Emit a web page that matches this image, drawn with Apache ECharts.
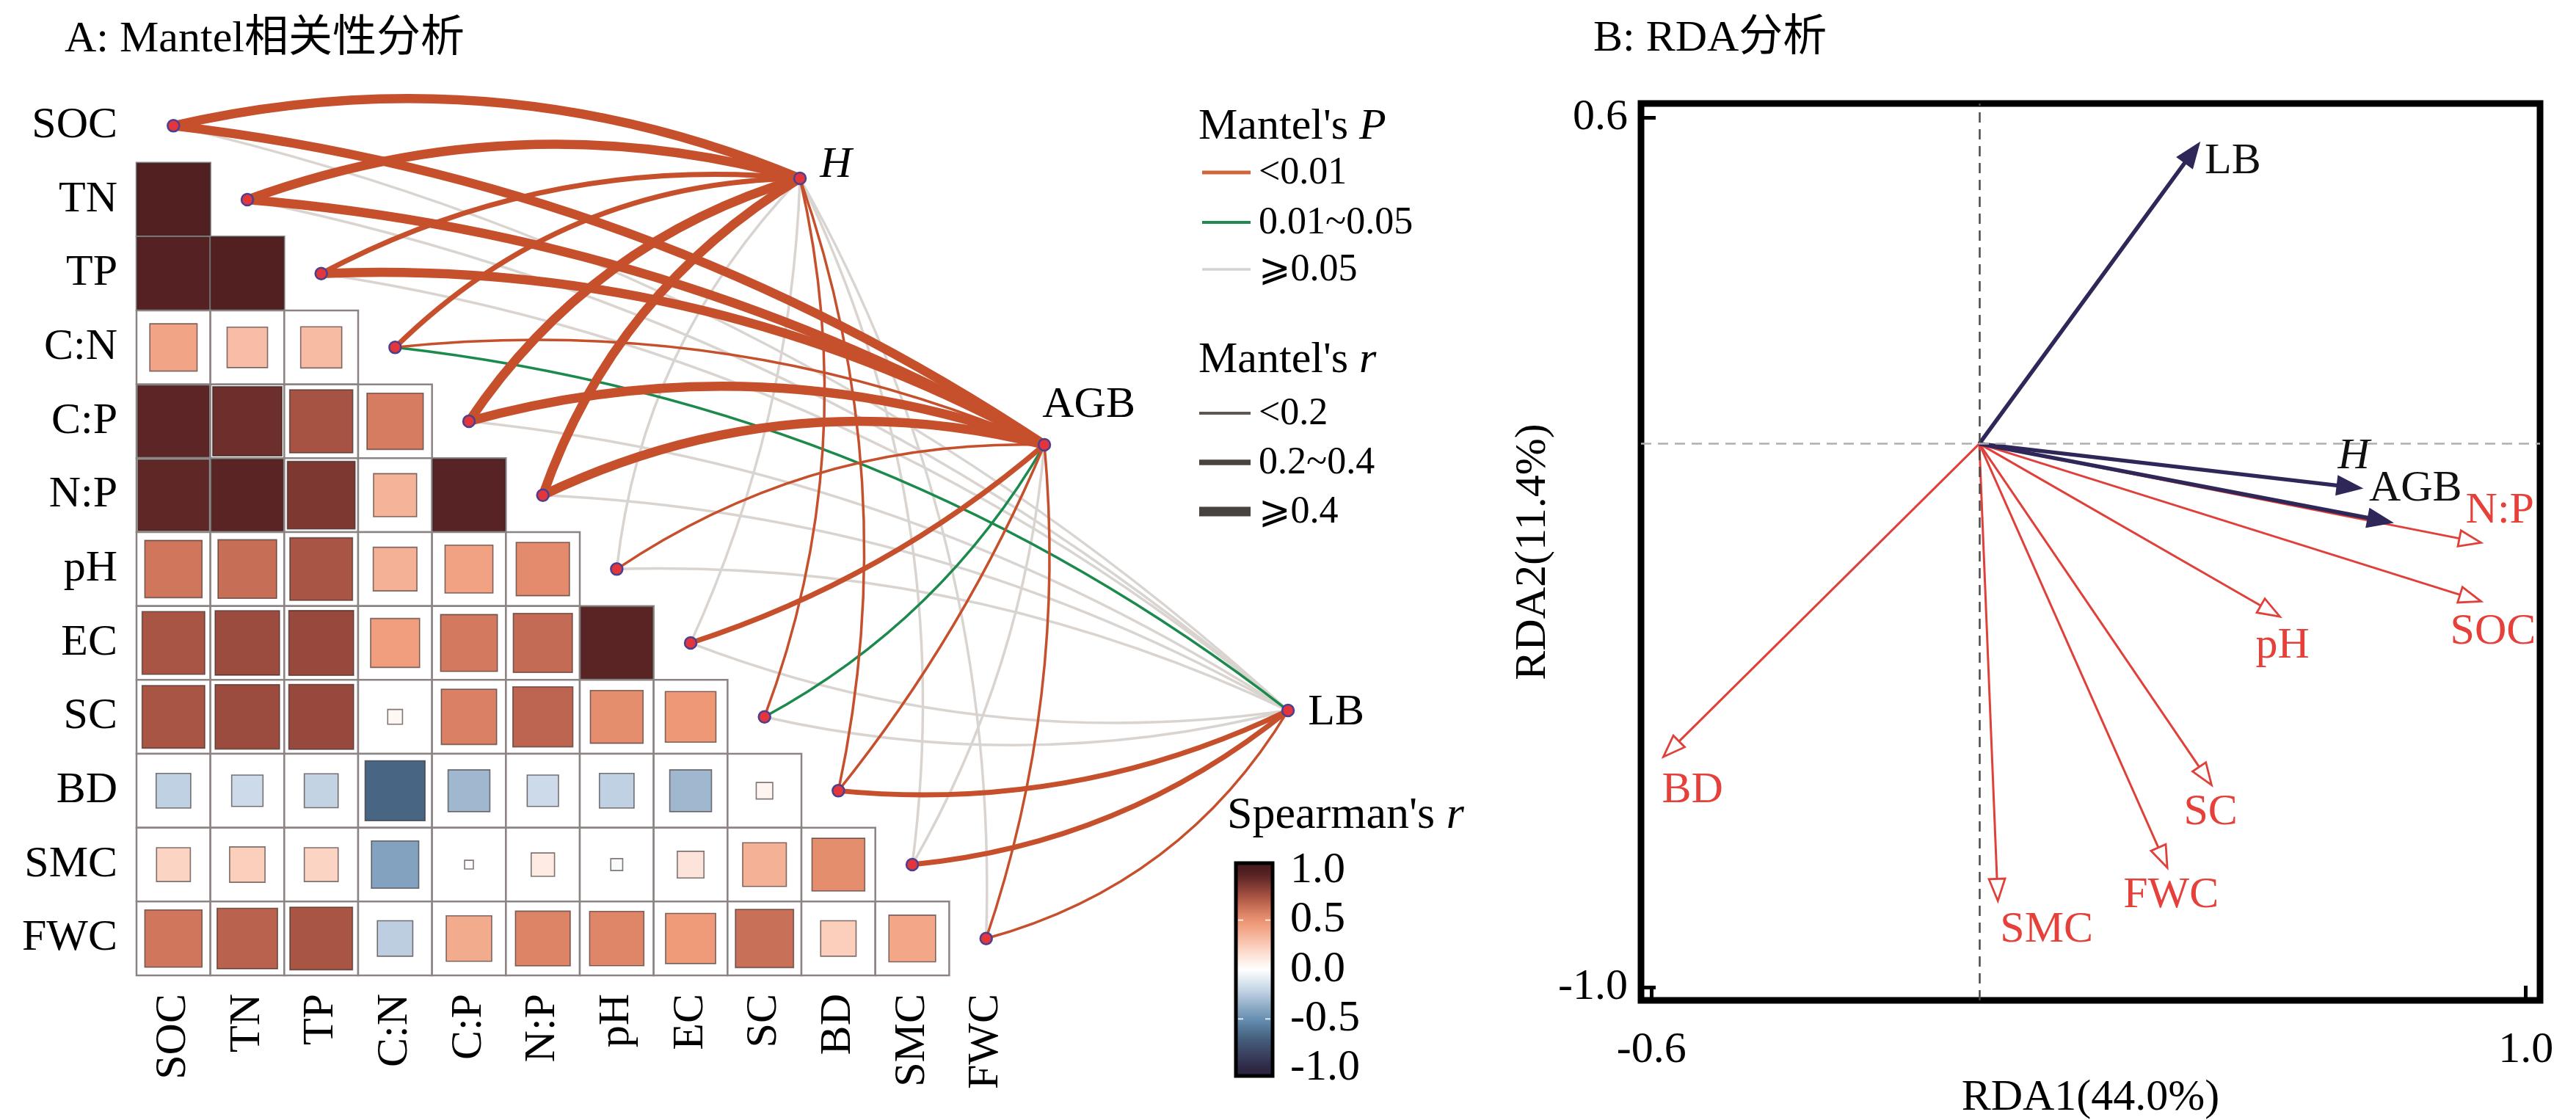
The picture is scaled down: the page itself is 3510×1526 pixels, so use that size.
<!DOCTYPE html>
<html>
<head>
<meta charset="utf-8">
<script src="https://cdn.jsdelivr.net/npm/echarts@6/dist/echarts.min.js"></script>
<style>html,body{margin:0;padding:0;background:#fff}#c{width:3510px;height:1526px}</style>
</head>
<body>
<div id="c"></div>
<script>
// ===================== DATA =====================
const variables = ['SOC','TN','TP','C:N','C:P','N:P','pH','EC','SC','BD','SMC','FWC'];

// Spearman's r, lower triangle (row i has values for columns 0..i-1)
const spearmanLower = [
  [],
  [0.97],
  [0.96, 0.97],
  [0.41, 0.30, 0.31],
  [0.93, 0.88, 0.73, 0.58],
  [0.92, 0.94, 0.84, 0.34, 0.95],
  [0.60, 0.63, 0.72, 0.35, 0.42, 0.52],
  [0.72, 0.76, 0.77, 0.44, 0.59, 0.64, 0.94],
  [0.72, 0.76, 0.77, 0.04, 0.56, 0.66, 0.51, 0.47],
  [-0.22, -0.18, -0.21, -0.66, -0.32, -0.18, -0.22, -0.32, 0.05],
  [0.21, 0.23, 0.21, -0.41, 0.014, 0.10, -0.026, 0.13, 0.35, 0.51],
  [0.60, 0.67, 0.72, -0.23, 0.38, 0.55, 0.54, 0.46, 0.62, 0.23, 0.40]
];

const mantelTargets = ['H', 'AGB', 'LB'];
// Mantel's P class per variable: 0 = <0.01, 1 = 0.01~0.05, 2 = >=0.05
const mantelP_H   = [0,0,0,0,0,0,2,2,0,0,2,2];
const mantelP_AGB = [0,0,0,0,0,0,0,0,1,0,2,0];
const mantelP_LB  = [2,2,2,1,2,2,2,2,2,0,0,0];
// Mantel's r class per variable: 0 = <0.2, 1 = 0.2~0.4, 2 = >=0.4
const mantelR_H   = [2,2,1,1,2,2,0,0,0,0,0,0];
const mantelR_AGB = [2,2,2,0,2,2,0,1,0,0,0,0];
const mantelR_LB  = [0,0,0,0,0,0,0,0,0,1,1,0];

const mantelPLabels = ['<0.01', '0.01~0.05', '\u2A7E0.05'];
const mantelRLabels = ['<0.2', '0.2~0.4', '\u2A7E0.4'];
const colorbarTicks = [-1.0, -0.5, 0.0, 0.5, 1.0];

// RDA biplot scores
const rdaRespNames = ['LB', 'H', 'AGB'];
const rdaRespX = [0.403, 0.700, 0.756];
const rdaRespY = [0.554, -0.082, -0.145];
const rdaEnvNames = ['N:P', 'SOC', 'pH', 'SC', 'FWC', 'SMC', 'BD'];
const rdaEnvX = [0.918, 0.918, 0.550, 0.425, 0.344, 0.034, -0.578];
const rdaEnvY = [-0.182, -0.290, -0.318, -0.628, -0.780, -0.841, -0.576];
const rdaXTicks = [-0.6, 1.0];
const rdaYTicks = [-1.0, 0.6];

// ===================== STYLE / LAYOUT =====================
const FONT = '"Liberation Serif","Times New Roman","DejaVu Serif","DejaVu Sans","Noto Sans CJK SC",serif';
const CELL = 100.67;
const A_LEFT = 186, A_TOP = 121;
const targetPos = { H: [8.98, 1.212], AGB: [12.288, 4.818], LB: [15.586, 8.414] };
const curveH   = [0.16,0.16,0.15,0.20,0.18,0.18,0.17,-0.10,-0.15,-0.14,-0.15,-0.14];
const curveAGB = [0.12,0.11,0.14,0.13,0.16,0.18,0.16,-0.10,-0.14,-0.07,-0.11,-0.106];
const curveLB  = [0.13,0.13,0.14,0.14,0.12,0.12,0.12,-0.13,-0.12,-0.14,-0.15,-0.20];
const pColors = ['#c64f2c', '#1c8a4c', '#d9d4d0'];
const pLegendColors = ['#d0663c', '#1f8a4f', '#d6d2cf'];
const rWidths = [3.5, 7, 12.5];
const rLegendWidths = [4, 7.5, 13];

const posStops = [[0,'#ffffff'],[0.2,'#fcd6c6'],[0.35,'#f5b196'],[0.47,'#ee9876'],[0.58,'#d67c61'],[0.7,'#b05a47'],[0.8,'#8e4238'],[0.9,'#652a29'],[1,'#4a1b1e']];
const negStops = [[0,'#ffffff'],[0.2,'#c6d6e6'],[0.35,'#95b0ca'],[0.5,'#658eb0'],[0.68,'#46607f'],[1,'#2c2441']];

function hex2rgb(h){return [parseInt(h.slice(1,3),16),parseInt(h.slice(3,5),16),parseInt(h.slice(5,7),16)];}
function corrColor(r){
  const stops = r >= 0 ? posStops : negStops;
  const a = Math.min(1, Math.abs(r));
  for (let i = 1; i < stops.length; i++) {
    if (a <= stops[i][0]) {
      const t = (a - stops[i-1][0]) / (stops[i][0] - stops[i-1][0]);
      const c0 = hex2rgb(stops[i-1][1]), c1 = hex2rgb(stops[i][1]);
      const c = c0.map((v,k) => Math.round(v + (c1[k]-v)*t));
      return 'rgb(' + c.join(',') + ')';
    }
  }
  return stops[stops.length-1][1];
}

// ===================== BUILD SERIES DATA =====================
const heatData = [];
spearmanLower.forEach((row, i) => row.forEach((r, j) => heatData.push([j, i, r])));

const pByTarget = { H: mantelP_H, AGB: mantelP_AGB, LB: mantelP_LB };
const rByTarget = { H: mantelR_H, AGB: mantelR_AGB, LB: mantelR_LB };
const curveByTarget = { H: curveH, AGB: curveAGB, LB: curveLB };
let links = [];
mantelTargets.forEach(t => {
  variables.forEach((v, i) => {
    const p = pByTarget[t][i], r = rByTarget[t][i];
    links.push({ p, r, item: {
      coords: [[i + 0.5, i + 0.5], targetPos[t]],
      lineStyle: { color: pColors[p], width: rWidths[r], curveness: curveByTarget[t][i], opacity: 1 }
    }});
  });
});
links.sort((a, b) => (b.p - a.p) || (a.r - b.r));
const linkData = links.map(l => l.item);

const envDots = variables.map((v, i) => [i + 0.5, i + 0.5]);
const targetLabelOffset = { H: [18, -18], AGB: [-12, -54], LB: [18, 3] };
const targetDots = mantelTargets.map(t => ({
  value: targetPos[t],
  label: { show: true, position: 'right', distance: 0, offset: targetLabelOffset[t],
           formatter: t, fontSize: 60, fontFamily: FONT, color: '#000',
           fontStyle: t === 'H' ? 'italic' : 'normal' }
}));

const CB_MIN = -1.077, CB_MAX = 1.077;

const rdaLabelOffset = {
  'LB': [7, 26, 'left'], 'H': [-11, -43, 'center'], 'AGB': [-32, -46, 'left'],
  'N:P': [-21, -43, 'left'], 'SOC': [-42, 42, 'left'], 'pH': [-33, 40, 'left'],
  'SC': [-38, 38, 'left'], 'FWC': [-60, 38, 'left'], 'SMC': [3, 40, 'left'], 'BD': [-2, 46, 'left']
};

function arrowRenderer(names, open, color, lw, headL, headW, labelColor) {
  return function (params, api) {
    const o = api.coord([0, 0]);
    const t = api.coord([api.value(0), api.value(1)]);
    const dx = t[0] - o[0], dy = t[1] - o[1], L = Math.hypot(dx, dy);
    const ux = dx / L, uy = dy / L;
    const b = [t[0] - ux * headL, t[1] - uy * headL];
    const p1 = [b[0] - uy * headW, b[1] + ux * headW];
    const p2 = [b[0] + uy * headW, b[1] - ux * headW];
    const name = names[params.dataIndex];
    const off = rdaLabelOffset[name];
    const lineEnd = open ? b : [b[0] + ux * 6, b[1] + uy * 6];
    return { type: 'group', children: [
      { type: 'line', shape: { x1: o[0], y1: o[1], x2: lineEnd[0], y2: lineEnd[1] },
        style: { stroke: color, lineWidth: lw } },
      { type: 'polygon', shape: { points: [t, p1, p2] },
        style: { fill: open ? '#ffffff' : color, stroke: color, lineWidth: open ? 2.8 : 1.5, lineJoin: 'miter' } },
      { type: 'text', x: t[0] + off[0], y: t[1] + off[1],
        style: { text: name, fill: labelColor, fontSize: 60, fontFamily: FONT,
                 fontStyle: name === 'H' ? 'italic' : 'normal', align: off[2], verticalAlign: 'middle' } }
    ]};
  };
}

// ===================== LEGEND GRAPHICS =====================
const gEls = [];
function txt(x, y, text, size, opts) {
  return Object.assign({ type: 'text', x, y, z: 50,
    style: Object.assign({ text, fontSize: size, fontFamily: FONT, fill: '#000', align: 'left', verticalAlign: 'middle' }, opts || {}) });
}
gEls.push(txt(88, 54, 'A: Mantel相关性分析', 60));
gEls.push(txt(2171, 53, 'B: RDA分析', 60));
gEls.push(txt(1633, 173, "Mantel's {i|P}", 60, { rich: { i: { fontStyle: 'italic', fontSize: 60, fontFamily: FONT } } }));
[235, 303, 367].forEach((y, k) => {
  gEls.push({ type: 'line', z: 50, shape: { x1: 1638, y1: y, x2: 1704, y2: y }, style: { stroke: pLegendColors[k], lineWidth: [5, 4, 3.5][k] } });
  gEls.push(txt(1715, y + 1, mantelPLabels[k], 52));
});
gEls.push(txt(1633, 491, "Mantel's {i|r}", 60, { rich: { i: { fontStyle: 'italic', fontSize: 60, fontFamily: FONT } } }));
[563, 630, 697].forEach((y, k) => {
  gEls.push({ type: 'line', z: 50, shape: { x1: 1634, y1: y, x2: 1704, y2: y }, style: { stroke: k === 0 ? '#5e5751' : '#48433f', lineWidth: rLegendWidths[k] } });
  gEls.push(txt(1715, y + 1, mantelRLabels[k], 52));
});
gEls.push(txt(1672, 1112, "Spearman's {i|r}", 62, { rich: { i: { fontStyle: 'italic', fontSize: 62, fontFamily: FONT } } }));

// ===================== OPTION =====================
const axisText = { fontSize: 60, fontFamily: FONT, color: '#000' };
const option = {
  animation: false,
  backgroundColor: '#ffffff',
  graphic: { elements: gEls },
  grid: [
    { left: A_LEFT, top: A_TOP, width: 12 * CELL, height: 12 * CELL, containLabel: false, outerBoundsMode: 'none' },
    { left: A_LEFT, top: A_TOP, width: 18 * CELL, height: 12 * CELL, containLabel: false, outerBoundsMode: 'none' },
    { left: 1684, top: 1176, width: 50, height: 290, containLabel: false, outerBoundsMode: 'none' },
    { left: 2236, top: 141, width: 1225, height: 1222, containLabel: false, outerBoundsMode: 'none',
      show: true, borderColor: '#000', borderWidth: 9, backgroundColor: 'transparent' }
  ],
  xAxis: [
    { type: 'category', gridIndex: 0, data: variables, position: 'bottom',
      axisLine: { show: false }, axisTick: { show: false }, splitLine: { show: false },
      axisLabel: Object.assign({ rotate: 90, margin: 25, interval: 0 }, axisText) },
    { type: 'value', gridIndex: 1, min: 0, max: 18, show: false },
    { type: 'value', gridIndex: 2, min: 0, max: 1, show: false },
    { type: 'value', gridIndex: 3, min: -0.619, max: 1.026, position: 'bottom',
      axisLine: { show: false, onZero: false }, splitLine: { show: false },
      axisTick: { show: true, inside: true, length: 20, customValues: rdaXTicks, lineStyle: { color: '#000', width: 5 } },
      axisLabel: Object.assign({ customValues: rdaXTicks, margin: 38, formatter: v => v.toFixed(1) }, axisText),
      name: 'RDA1(44.0%)', nameLocation: 'middle', nameGap: 92, nameTextStyle: axisText }
  ],
  yAxis: [
    { type: 'category', gridIndex: 0, data: variables, inverse: true,
      axisLine: { show: false }, axisTick: { show: false }, splitLine: { show: false },
      axisLabel: Object.assign({ margin: 26, interval: 0 }, axisText) },
    { type: 'value', gridIndex: 1, min: 0, max: 12, inverse: true, show: false },
    { type: 'value', gridIndex: 2, min: CB_MIN, max: CB_MAX, position: 'right',
      axisLine: { show: false, onZero: false }, axisTick: { show: false }, splitLine: { show: false },
      axisLabel: Object.assign({ customValues: colorbarTicks, margin: 24, formatter: v => v.toFixed(1) }, axisText) },
    { type: 'value', gridIndex: 3, min: -1.024, max: 0.626, position: 'left',
      axisLine: { show: false, onZero: false }, splitLine: { show: false },
      axisTick: { show: true, inside: true, length: 20, customValues: rdaYTicks, lineStyle: { color: '#000', width: 5 } },
      axisLabel: Object.assign({ customValues: rdaYTicks, margin: 18, formatter: v => v.toFixed(1) }, axisText),
      name: 'RDA2(11.4%)', nameLocation: 'middle', nameGap: 112, nameTextStyle: axisText }
  ],
  series: [
    // correlation heatmap (cells + squares)
    { type: 'custom', xAxisIndex: 0, yAxisIndex: 0, data: heatData, silent: true, z: 2,
      renderItem: function (params, api) {
        const c = api.coord([api.value(0), api.value(1)]);
        const s = api.size([1, 1]);
        const r = api.value(2);
        const k = Math.sqrt(Math.abs(r));
        const w = s[0], h = s[1];
        return { type: 'group', children: [
          { type: 'rect', shape: { x: c[0] - w / 2, y: c[1] - h / 2, width: w, height: h },
            style: { fill: '#ffffff', stroke: '#8c8483', lineWidth: 2.5 } },
          { type: 'rect', shape: { x: c[0] - w * k / 2, y: c[1] - h * k / 2, width: w * k, height: h * k },
            style: { fill: corrColor(r), stroke: 'rgba(45,30,30,0.6)', lineWidth: 1.6 } }
        ]};
      } },
    // Mantel links
    { type: 'lines', coordinateSystem: 'cartesian2d', xAxisIndex: 1, yAxisIndex: 1,
      polyline: false, silent: true, z: 3, lineStyle: { opacity: 1 }, data: linkData },
    // variable dots
    { type: 'scatter', xAxisIndex: 1, yAxisIndex: 1, data: envDots, symbol: 'circle', symbolSize: 16, z: 5, silent: true,
      itemStyle: { color: '#e2363c', borderColor: '#4b3f91', borderWidth: 2.5, opacity: 1 } },
    // target dots
    { type: 'scatter', xAxisIndex: 1, yAxisIndex: 1, data: targetDots, symbol: 'circle', symbolSize: 16, z: 5, silent: true,
      itemStyle: { color: '#e2363c', borderColor: '#4b3f91', borderWidth: 2.5, opacity: 1 } },
    // colorbar
    { type: 'custom', xAxisIndex: 2, yAxisIndex: 2, data: [[0, 0]], silent: true, z: 2,
      renderItem: function (params, api) {
        const tl = api.coord([0, CB_MAX]), br = api.coord([1, CB_MIN]);
        const stops = [];
        for (let i = 0; i <= 40; i++) {
          const v = CB_MAX - (CB_MAX - CB_MIN) * i / 40;
          stops.push({ offset: i / 40, color: corrColor(Math.max(-1, Math.min(1, v))) });
        }
        const children = [
          { type: 'rect', shape: { x: tl[0], y: tl[1], width: br[0] - tl[0], height: br[1] - tl[1] },
            style: { fill: { type: 'linear', x: 0, y: 0, x2: 0, y2: 1, colorStops: stops }, stroke: '#000', lineWidth: 5 } }
        ];
        [0.5, -0.5].forEach(v => {
          const p = api.coord([0, v]);
          children.push({ type: 'line', shape: { x1: tl[0] + 3, y1: p[1], x2: tl[0] + 10, y2: p[1] }, style: { stroke: 'rgba(255,255,255,0.8)', lineWidth: 2 } });
          children.push({ type: 'line', shape: { x1: br[0] - 10, y1: p[1], x2: br[0] - 3, y2: p[1] }, style: { stroke: 'rgba(255,255,255,0.8)', lineWidth: 2 } });
        });
        return { type: 'group', children };
      } },
    // RDA zero reference lines
    { type: 'line', xAxisIndex: 3, yAxisIndex: 3, data: [], silent: true,
      markLine: { silent: true, symbol: 'none', label: { show: false }, animation: false,
        data: [
          { xAxis: 0, lineStyle: { type: [14, 9], color: '#4a4a4a', width: 2.5 } },
          { yAxis: 0, lineStyle: { type: [14, 9], color: '#b3adad', width: 2.5 } }
        ] } },
    // RDA environmental arrows (open heads)
    { type: 'custom', xAxisIndex: 3, yAxisIndex: 3, silent: true, z: 3,
      data: rdaEnvX.map((x, i) => [x, rdaEnvY[i]]),
      renderItem: arrowRenderer(rdaEnvNames, true, '#e0403a', 3, 30, 11, '#e5403a') },
    // RDA response arrows (filled heads)
    { type: 'custom', xAxisIndex: 3, yAxisIndex: 3, silent: true, z: 4,
      data: rdaRespX.map((x, i) => [x, rdaRespY[i]]),
      renderItem: arrowRenderer(rdaRespNames, false, '#2e2758', 5.5, 34, 13, '#111111') }
  ]
};

const chart = echarts.init(document.getElementById('c'), null, { renderer: 'canvas' });
chart.setOption(option);
</script>
</body>
</html>
